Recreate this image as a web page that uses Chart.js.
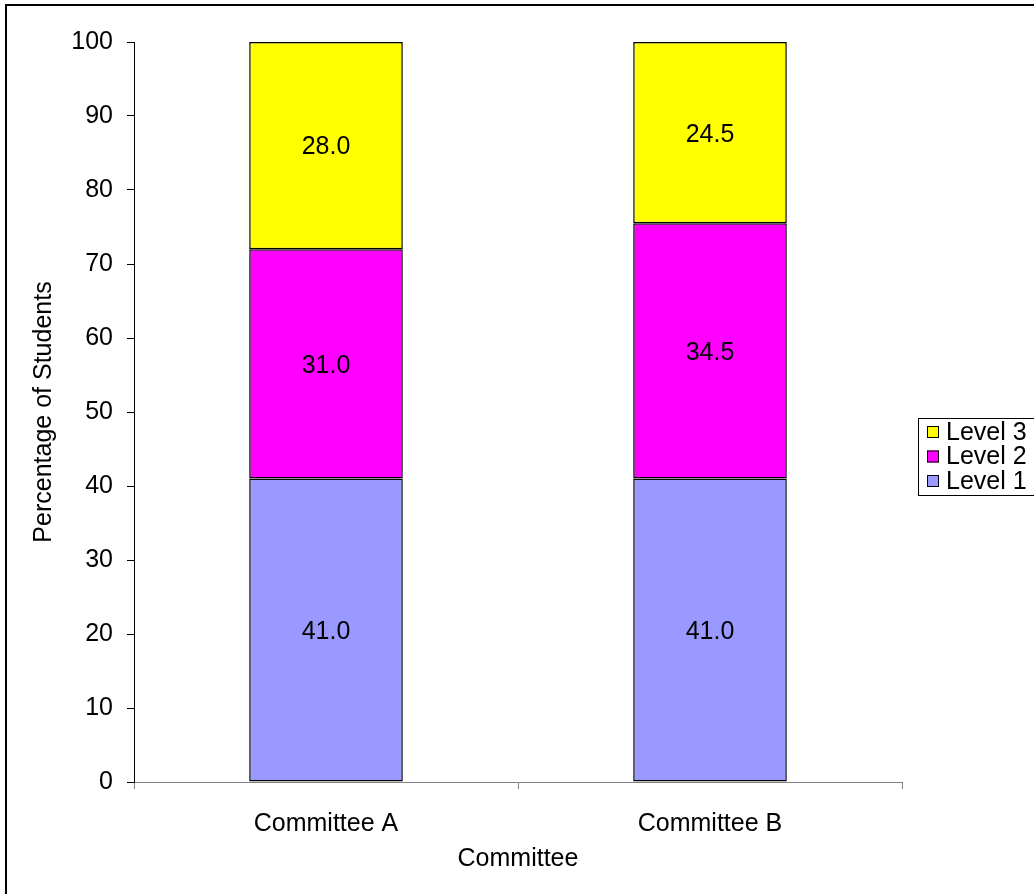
<!DOCTYPE html>
<html>
<head>
<meta charset="utf-8">
<style>
  html, body { margin: 0; padding: 0; background: #fff; }
  #wrap { width: 1034px; height: 894px; position: relative; }
</style>
<script src="https://cdn.jsdelivr.net/npm/chart.js@4.4.1/dist/chart.umd.min.js"></script>
</head>
<body>
<div id="wrap"><canvas id="chart" width="1034" height="894"></canvas></div>
<script>
// Student level breakdown per committee (percent)
const committees = ['Committee A', 'Committee B'];
const level1 = [41.0, 41.0];
const level2 = [31.0, 34.5];
const level3 = [28.0, 24.5];
const yTicks = [0, 10, 20, 30, 40, 50, 60, 70, 80, 90, 100];

const FONT = "'Liberation Sans', Arial, sans-serif";
const FS = 25;

// Values written in the middle of each bar segment
const segmentLabels = {
  id: 'segmentLabels',
  afterDatasetsDraw(chart) {
    const ctx = chart.ctx;
    ctx.save();
    ctx.font = FS + 'px ' + FONT;
    ctx.fillStyle = '#000';
    ctx.textAlign = 'center';
    ctx.textBaseline = 'middle';
    chart.data.datasets.forEach((ds, di) => {
      chart.getDatasetMeta(di).data.forEach((bar, i) => {
        const mid = (bar.y + bar.base) / 2;
        ctx.fillText(ds.data[i].toFixed(1), bar.x, mid + 2);
      });
    });
    ctx.restore();
  }
};

// Outer frame plus boxed legend at the right (top entry = highest level)
const frameAndLegend = {
  id: 'frameAndLegend',
  afterDraw(chart) {
    const ctx = chart.ctx;
    ctx.save();
    ctx.strokeStyle = '#000';
    ctx.lineWidth = 2;
    ctx.beginPath();
    ctx.moveTo(6, 894);
    ctx.lineTo(6, 5);
    ctx.lineTo(1034, 5);
    ctx.stroke();

    const lx = 918, ly = 418, lh = 77;
    ctx.lineWidth = 1;
    ctx.strokeRect(lx + 0.5, ly + 0.5, 200, lh);
    ctx.font = FS + 'px ' + FONT;
    ctx.textBaseline = 'middle';
    ctx.textAlign = 'left';
    const order = chart.data.datasets.map((d, i) => i).reverse();
    order.forEach((di, k) => {
      const ds = chart.data.datasets[di];
      const cy = ly + 14 + k * 24.5;
      ctx.fillStyle = ds.backgroundColor;
      ctx.fillRect(lx + 9, cy - 6, 12, 12);
      ctx.strokeStyle = '#000';
      ctx.strokeRect(lx + 9.5, cy - 5.5, 11, 11);
      ctx.fillStyle = '#000';
      ctx.fillText(ds.label, lx + 28, cy + 1);
    });
    ctx.restore();
  }
};

new Chart(document.getElementById('chart'), {
  type: 'bar',
  data: {
    labels: committees,
    datasets: [
      { label: 'Level 1', data: level1, backgroundColor: '#9999FF' },
      { label: 'Level 2', data: level2, backgroundColor: '#FF00FF' },
      { label: 'Level 3', data: level3, backgroundColor: '#FFFF00' }
    ].map(d => Object.assign(d, {
      borderColor: '#000', borderWidth: 1.5, borderSkipped: false,
      categoryPercentage: 1, barPercentage: 0.4
    }))
  },
  options: {
    responsive: false,
    animation: false,
    layout: { padding: { top: 42, right: 132, bottom: 0, left: 0 } },
    plugins: { legend: { display: false }, tooltip: { enabled: false } },
    scales: {
      x: {
        stacked: true,
        grid: { display: true, offset: true, drawOnChartArea: false, color: '#808080', tickLength: 7 },
        border: { display: true, color: '#808080', width: 1 },
        ticks: { color: '#000', font: { family: FONT, size: FS }, padding: 20, maxRotation: 0 },
        title: { display: true, text: 'Committee', color: '#000', font: { family: FONT, size: FS }, padding: { top: 0, bottom: 20 } },
        afterFit(scale) { scale.height = 112; }
      },
      y: {
        stacked: true,
        min: 0, max: 100,
        afterBuildTicks(scale) { scale.ticks = yTicks.map(v => ({ value: v })); },
        grid: { display: true, drawOnChartArea: false, color: '#000', tickLength: 7 },
        border: { display: true, color: '#000', width: 1 },
        ticks: { color: '#000', font: { family: FONT, size: FS }, padding: 14 },
        title: { display: true, text: 'Percentage of Students', color: '#000', font: { family: FONT, size: FS }, padding: { top: 29, bottom: 0 } },
        afterFit(scale) { scale.width = 134; }
      }
    }
  },
  plugins: [segmentLabels, frameAndLegend]
});
</script>
</body>
</html>
